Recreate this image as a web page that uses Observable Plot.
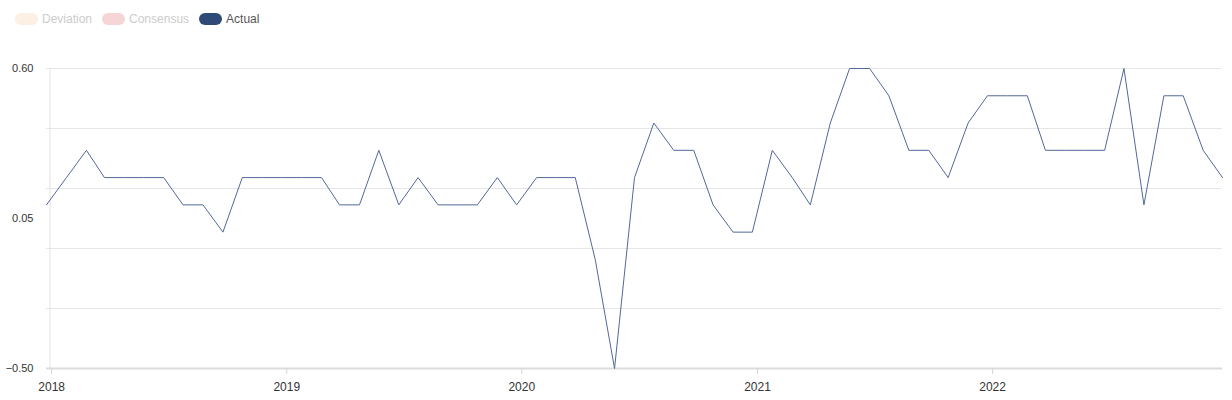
<!DOCTYPE html>
<html><head><meta charset="utf-8">
<script src="https://cdn.jsdelivr.net/npm/d3@7"></script>
<script src="https://cdn.jsdelivr.net/npm/@observablehq/plot@0.6"></script>
<style>
body{margin:0;background:#fff;font-family:"Liberation Sans",Arial,sans-serif;}
#legend{height:38px;display:flex;align-items:center;padding-left:15px;font-size:12px;}
.item{display:flex;align-items:center;margin-right:10px;}
.sw{width:23px;height:12px;border-radius:6px;margin-right:4px;}
</style></head><body>
<div id="legend"></div>
<div id="chart"></div>
<script>
// Release months (Dec 2017 – Dec 2022)
const months = [
  "2017-12",
  "2018-01","2018-02","2018-03","2018-04","2018-05","2018-06","2018-07","2018-08","2018-09","2018-10","2018-11","2018-12",
  "2019-01","2019-02","2019-03","2019-04","2019-05","2019-06","2019-07","2019-08","2019-09","2019-10","2019-11","2019-12",
  "2020-01","2020-02","2020-03","2020-04","2020-05","2020-06","2020-07","2020-08","2020-09","2020-10","2020-11","2020-12",
  "2021-01","2021-02","2021-03","2021-04","2021-05","2021-06","2021-07","2021-08","2021-09","2021-10","2021-11","2021-12",
  "2022-01","2022-02","2022-03","2022-04","2022-05","2022-06","2022-07","2022-08","2022-09","2022-10","2022-11","2022-12"
];
const actual = [
  0.1,
  0.2,0.3,0.2,0.2,0.2,0.2,0.1,0.1,0.0,0.2,0.2,0.2,
  0.2,0.2,0.1,0.1,0.3,0.1,0.2,0.1,0.1,0.1,0.2,0.1,
  0.2,0.2,0.2,-0.1,-0.5,0.2,0.4,0.3,0.3,0.1,0.0,0.0,
  0.3,0.2,0.1,0.4,0.6,0.6,0.5,0.3,0.3,0.2,0.4,0.5,
  0.5,0.5,0.3,0.3,0.3,0.3,0.6,0.1,0.5,0.5,0.3,0.2
];
const releaseDay = "24";
const yGridTicks = [0.6, 0.38, 0.16, -0.06, -0.28, -0.5];
const yLabelTicks = [0.6, 0.05, -0.5];
const xTickYears = ["2018", "2019", "2020", "2021", "2022"];
const legendLabels = ["Deviation", "Consensus", "Actual"];
const legendColors = ["#fcefe4", "#f5d5d5", "#2e4a76"];
const legendTextColors = ["#cccccc", "#cccccc", "#555555"];

// Legend
const leg = document.getElementById("legend");
legendLabels.forEach((l, i) => {
  const it = document.createElement("div");
  it.className = "item";
  it.innerHTML = `<div class="sw" style="background:${legendColors[i]}"></div><span style="color:${legendTextColors[i]}">${l}</span>`;
  leg.appendChild(it);
});

const data = months.map((m, i) => ({date: new Date(`${m}-${releaseDay}T00:00:00`), value: actual[i]}));
const xTicks = xTickYears.map(y => new Date(`${y}-01-01T00:00:00`));
const xDomain = [data[0].date, data[data.length - 1].date];

const chart = Plot.plot({
  width: 1232,
  height: 362,
  marginLeft: 46,
  marginRight: 10,
  marginTop: 30,
  marginBottom: 32,
  style: {fontFamily: "'Liberation Sans', Arial, sans-serif", background: "#fff", overflow: "visible"},
  x: {type: "time", domain: xDomain},
  y: {domain: [-0.5, 0.6]},
  marks: [
    Plot.gridY(yGridTicks, {stroke: "#e6e6e6", strokeOpacity: 1, strokeWidth: 1}),
    Plot.ruleX([xDomain[0]], {dx: 3.5, stroke: "#e3e3e3", strokeWidth: 1}),
    Plot.ruleY([-0.5], {stroke: "#dcdcdc", strokeWidth: 2}),
    Plot.axisY(yLabelTicks, {tickSize: 0, tickPadding: 13, tickFormat: d3.format(".2f"), fontSize: 11, fill: "#333", label: null}),
    Plot.axisX(xTicks, {tickSize: 6, tickPadding: 8, tickFormat: d3.timeFormat("%Y"), fontSize: 12, fill: "#333", stroke: "#d6d6d6", label: null}),
    Plot.line(data, {x: "date", y: "value", stroke: "#52699a", strokeWidth: 1})
  ]
});
document.getElementById("chart").appendChild(chart);
</script>
</body></html>
